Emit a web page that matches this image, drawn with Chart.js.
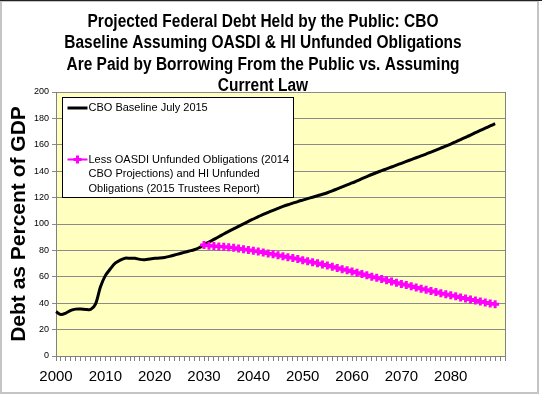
<!DOCTYPE html>
<html>
<head>
<meta charset="utf-8">
<script src="https://cdn.jsdelivr.net/npm/chart.js@4.4.1/dist/chart.umd.min.js"></script>
<style>
  html, body { margin: 0; padding: 0; background: #fff; }
  #wrap { width: 542px; height: 396px; }
</style>
</head>
<body>
<div id="wrap"><canvas id="debtChart" width="542" height="396"></canvas></div>
<script>
// years on the category axis (the axis runs two empty slots past the data)
const years = [
    2000, 2001, 2002, 2003, 2004, 2005, 2006, 2007, 2008, 2009,
    2010, 2011, 2012, 2013, 2014, 2015, 2016, 2017, 2018, 2019,
    2020, 2021, 2022, 2023, 2024, 2025, 2026, 2027, 2028, 2029,
    2030, 2031, 2032, 2033, 2034, 2035, 2036, 2037, 2038, 2039,
    2040, 2041, 2042, 2043, 2044, 2045, 2046, 2047, 2048, 2049,
    2050, 2051, 2052, 2053, 2054, 2055, 2056, 2057, 2058, 2059,
    2060, 2061, 2062, 2063, 2064, 2065, 2066, 2067, 2068, 2069,
    2070, 2071, 2072, 2073, 2074, 2075, 2076, 2077, 2078, 2079,
    2080, 2081, 2082, 2083, 2084, 2085, 2086, 2087, 2088, 2089,
    '', ''
];

// CBO Baseline July 2015, 2000-2089 (% of GDP)
const baselineValues = [
    33.6, 31.4, 32.5, 34.5, 35.5, 35.6, 35.3, 35.2, 39.3, 52.3,
    60.9, 65.9, 70.4, 72.6, 74.1, 74.0, 74.0, 73.2, 73.0, 73.5,
    74.0, 74.2, 74.6, 75.5, 76.5, 77.5, 78.5, 79.5, 80.5, 82.0,
    84.3, 86.3, 88.3, 90.3, 92.4, 94.4, 96.3, 98.2, 100.1, 102.0,
    103.8, 105.6, 107.2, 108.8, 110.4, 111.9, 113.3, 114.6, 115.8, 117.0,
    118.1, 119.2, 120.3, 121.4, 122.5, 123.7, 125.1, 126.6, 128.1, 129.6,
    131.1, 132.7, 134.3, 135.9, 137.5, 139.0, 140.4, 141.8, 143.2, 144.6,
    146.0, 147.4, 148.8, 150.2, 151.6, 153.0, 154.5, 156.0, 157.5, 159.0,
    160.6, 162.3, 164.0, 165.7, 167.4, 169.2, 170.9, 172.6, 174.3, 176.0
];

// Less OASDI & HI unfunded obligations, 2030-2089 (% of GDP)
const altStartYear = 2030;
const altValues = [
    84.0, 83.6, 83.3, 83.0, 82.7, 82.4, 82.0, 81.5, 80.9, 80.3,
    79.7, 79.1, 78.4, 77.7, 77.0, 76.3, 75.6, 74.9, 74.2, 73.5,
    72.6, 71.8, 71.0, 70.2, 69.4, 68.5, 67.6, 66.7, 65.8, 64.9,
    64.0, 63.1, 62.1, 61.1, 60.1, 59.2, 58.3, 57.3, 56.4, 55.5,
    54.6, 53.7, 52.8, 51.9, 51.0, 50.1, 49.2, 48.4, 47.6, 46.8,
    46.0, 45.2, 44.4, 43.6, 42.8, 42.0, 41.2, 40.5, 39.8, 39.2
];

const seriesNames = [
    'CBO Baseline July 2015',
    'Less OASDI Unfunded Obligations (2014 CBO Projections) and HI Unfunded Obligations (2015 Trustees Report)'
];

const titleLines = [
    'Projected Federal Debt Held by the Public: CBO',
    'Baseline Assuming OASDI & HI Unfunded Obligations',
    'Are Paid by Borrowing From the Public vs. Assuming',
    'Current Law'
];
const yAxisTitle = 'Debt as Percent of GDP';
const yTicks = [0, 20, 40, 60, 80, 100, 120, 140, 160, 180, 200];

const sansFont = '"Liberation Sans", Arial, sans-serif';

// pad the alternative series with nulls before its first year
const altData = years.map(y => {
    const i = y - altStartYear;
    return (y !== '' && i >= 0 && i < altValues.length) ? altValues[i] : null;
});

function wrapText(ctx, text, maxWidth) {
    const words = text.split(' ');
    const lines = [];
    let line = '';
    words.forEach(w => {
        const test = line ? line + ' ' + w : w;
        if (ctx.measureText(test).width > maxWidth && line) {
            lines.push(line);
            line = w;
        } else {
            line = test;
        }
    });
    if (line) lines.push(line);
    return lines;
}

const backgroundPlugin = {
    id: 'plotBackground',
    beforeDraw(chart) {
        const {ctx, chartArea: a} = chart;
        ctx.save();
        ctx.fillStyle = '#ffffff';
        ctx.fillRect(0, 0, chart.width, chart.height);
        ctx.fillStyle = '#FFFFC0';
        ctx.fillRect(a.left, a.top, a.right - a.left, a.bottom - a.top);
        ctx.restore();
    }
};

// title in a narrowed bold face, like the original
const titlePlugin = {
    id: 'bigTitle',
    afterDraw(chart) {
        const ctx = chart.ctx;
        const squeeze = 0.86;
        ctx.save();
        ctx.fillStyle = '#000';
        ctx.font = 'bold 18px ' + sansFont;
        ctx.textAlign = 'center';
        ctx.textBaseline = 'alphabetic';
        ctx.scale(squeeze, 1);
        titleLines.forEach((line, i) => {
            ctx.fillText(line, 263 / squeeze, 27 + i * 21.4);
        });
        ctx.restore();
    }
};

const legendPlugin = {
    id: 'boxLegend',
    afterDraw(chart) {
        const ctx = chart.ctx;
        const box = {left: 62.5, top: 97.5, width: 231, height: 100};
        const itemY = [box.top + 10.5, box.top + 62];
        ctx.save();
        ctx.fillStyle = '#fff';
        ctx.fillRect(box.left, box.top, box.width, box.height);
        ctx.strokeStyle = '#000';
        ctx.lineWidth = 1;
        ctx.strokeRect(box.left, box.top, box.width, box.height);

        ctx.font = '11px ' + sansFont;
        ctx.textBaseline = 'middle';
        ctx.textAlign = 'left';
        chart.data.datasets.forEach((ds, i) => {
            const y = itemY[i];
            const x0 = box.left + 5, x1 = box.left + 25;
            ctx.strokeStyle = ds.borderColor;
            ctx.lineWidth = ds.borderWidth;
            ctx.beginPath();
            ctx.moveTo(x0, y);
            ctx.lineTo(x1, y);
            ctx.stroke();
            if (ds.pointRadius > 0) {
                ctx.lineWidth = ds.pointBorderWidth;
                Chart.helpers.drawPoint(ctx, {
                    pointStyle: ds.pointStyle,
                    radius: ds.pointRadius,
                    borderWidth: ds.pointBorderWidth,
                    rotation: 0
                }, (x0 + x1) / 2, y);
            }
            ctx.fillStyle = '#000';
            const lines = wrapText(ctx, ds.label, 202);
            lines.forEach((ln, k) => ctx.fillText(ln, x1 + 1, y + k * 14.5));
        });
        ctx.restore();
    }
};

const framePlugin = {
    id: 'outerFrame',
    afterDraw(chart) {
        const {ctx, chartArea: a} = chart;
        ctx.save();
        // right edge of the plot area
        ctx.strokeStyle = '#808080';
        ctx.lineWidth = 1;
        ctx.beginPath();
        ctx.moveTo(a.right + 0.5, a.top);
        ctx.lineTo(a.right + 0.5, a.bottom);
        ctx.stroke();
        // picture frame
        ctx.strokeStyle = '#c4c4c4';
        ctx.lineWidth = 2;
        ctx.strokeRect(1, 1, 537, 392);
        ctx.strokeStyle = '#222';
        ctx.lineWidth = 1;
        ctx.beginPath();
        ctx.moveTo(0, 0.5);
        ctx.lineTo(chart.width, 0.5);
        ctx.stroke();
        ctx.restore();
    }
};

new Chart('debtChart', {
    type: 'line',
    data: {
        labels: years,
        datasets: [
            {
                label: seriesNames[0],
                data: baselineValues,
                borderColor: '#000000',
                backgroundColor: '#000000',
                borderWidth: 3,
                pointRadius: 0,
                tension: 0.3,
                order: 1
            },
            {
                label: seriesNames[1],
                data: altData,
                borderColor: '#FF00FF',
                backgroundColor: '#FF00FF',
                borderWidth: 2,
                pointStyle: 'cross',
                pointRadius: 4,
                pointBorderWidth: 3,
                pointBorderColor: '#FF00FF',
                tension: 0.3,
                order: 0
            }
        ]
    },
    options: {
        responsive: false,
        animation: false,
        devicePixelRatio: 1,
        layout: {
            padding: {top: 92, right: 37, left: 0, bottom: 0}
        },
        plugins: {
            legend: {display: false},
            title: {display: false},
            tooltip: {enabled: false}
        },
        scales: {
            x: {
                type: 'category',
                offset: false,
                border: {color: '#808080'},
                grid: {
                    drawOnChartArea: false,
                    color: '#808080',
                    tickLength: 5
                },
                ticks: {
                    autoSkip: false,
                    maxRotation: 0,
                    minRotation: 0,
                    padding: 7,
                    color: '#000',
                    font: {family: sansFont, size: 15},
                    callback: function (value) {
                        const label = this.getLabelForValue(value);
                        return (label !== '' && label % 10 === 0) ? String(label) : '';
                    }
                },
                afterFit: scale => { scale.height = 40; }
            },
            y: {
                min: yTicks[0],
                max: yTicks[yTicks.length - 1],
                border: {color: '#808080'},
                grid: {
                    color: '#8a8a8a',
                    tickLength: 4
                },
                ticks: {
                    stepSize: yTicks[1] - yTicks[0],
                    padding: 3,
                    color: '#000',
                    font: {family: sansFont, size: 9}
                },
                title: {
                    display: true,
                    text: yAxisTitle,
                    color: '#000',
                    padding: {top: 7, bottom: 0},
                    font: {family: sansFont, size: 21, weight: 'bold'}
                },
                afterFit: scale => { scale.width = 56; }
            }
        }
    },
    plugins: [backgroundPlugin, titlePlugin, legendPlugin, framePlugin]
});
</script>
</body>
</html>
